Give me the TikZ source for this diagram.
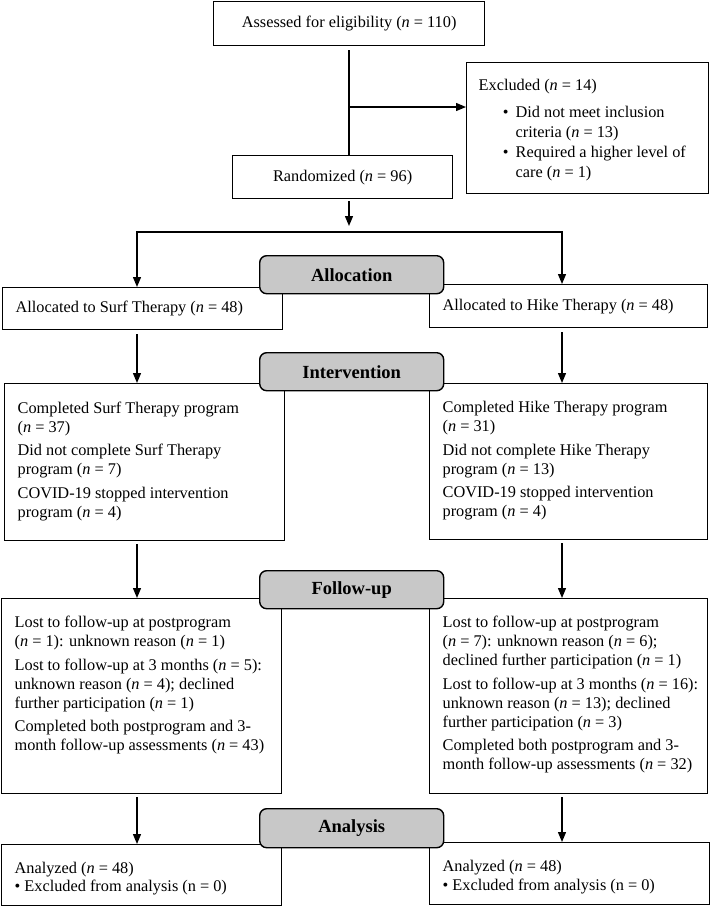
\documentclass[tikz,border=0pt]{standalone}
\usepackage{fontspec}
\setmainfont{Liberation Serif}
\usetikzlibrary{arrows.meta}
\definecolor{hdrgray}{RGB}{200,200,200}
\newcommand{\consortbox}[4]{\parbox[c][#2][#3]{#1}{\raggedright\leftskip=13pt\relax\parskip=4.5pt\relax #4\par}}
\begin{document}
\begin{tikzpicture}[x=1pt,y=-1pt,
  font=\fontsize{16.3}{19}\selectfont,
  >={Triangle[length=10pt,width=8pt]},
  box/.style={draw, line width=1.3pt, inner sep=0pt, anchor=north west},
  cbox/.style={draw, line width=1.3pt, anchor=north west, align=center, inner sep=0pt},
  hdr/.style={draw, line width=1.4pt, fill=hdrgray, rounded corners=7pt, minimum width=184pt,
    minimum height=38pt, anchor=north west, inner sep=0pt, font=\fontsize{18.5}{20}\selectfont\bfseries},
  ln/.style={line width=1.3pt},
  arr/.style={line width=1.3pt, ->}]

\useasboundingbox (0,0) rectangle (710,906);

% boxes
\node[cbox, minimum width=271pt, minimum height=44pt] (assess) at (213,1) {Assessed for eligibility (\textit{n} = 110)};

\node[box] (excl) at (466,62) {\parbox[c][131pt][t]{242pt}{\raggedright\fontsize{16.3}{20}\selectfont\leftskip=12pt\relax
  \vspace*{17pt}Excluded (\textit{n} = 14)\par\vspace{7pt}\leftskip=49pt\relax
  \leavevmode\llap{\textbullet\hspace{7pt}}Did not meet inclusion\\criteria (\textit{n} = 13)\par
  \leavevmode\llap{\textbullet\hspace{7pt}}Required a higher level of\\care (\textit{n} = 1)\par}};

\node[cbox, minimum width=220pt, minimum height=43pt] (rand) at (232,155) {Randomized (\textit{n} = 96)};

\node[box] (allocL) at (2,287) {\consortbox{280pt}{42pt}{c}{Allocated to Surf Therapy (\textit{n} = 48)}};
\node[box] (allocR) at (429,284) {\consortbox{278pt}{43pt}{c}{Allocated to Hike Therapy (\textit{n} = 48)}};

\node[box] (intL) at (4,383) {\consortbox{280pt}{157pt}{t}{\vspace*{13.5pt}%
  Completed Surf Therapy program\\(\textit{n} = 37)\par
  Did not complete Surf Therapy\\program (\textit{n} = 7)\par
  COVID-19 stopped intervention\\program (\textit{n} = 4)}};
\node[box] (intR) at (429,383) {\consortbox{278pt}{156pt}{t}{\vspace*{13.5pt}%
  Completed Hike Therapy program\\(\textit{n} = 31)\par
  Did not complete Hike Therapy\\program (\textit{n} = 13)\par
  COVID-19 stopped intervention\\program (\textit{n} = 4)}};

\node[box] (folL) at (1,598) {\consortbox{280pt}{195pt}{t}{\vspace*{13pt}%
  Lost to follow-up at postprogram\\(\textit{n} = 1): unknown reason (\textit{n} = 1)\par
  Lost to follow-up at 3 months (\textit{n} = 5):\\unknown reason (\textit{n} = 4); declined\\further participation (\textit{n} = 1)\par
  Completed both postprogram and 3-\\month follow-up assessments (\textit{n} = 43)}};
\node[box] (folR) at (429,598) {\consortbox{278pt}{195pt}{t}{\vspace*{13pt}%
  Lost to follow-up at postprogram\\(\textit{n} = 7): unknown reason (\textit{n} = 6);\\declined further participation (\textit{n} = 1)\par
  Lost to follow-up at 3 months (\textit{n} = 16):\\unknown reason (\textit{n} = 13); declined\\further participation (\textit{n} = 3)\par
  Completed both postprogram and 3-\\month follow-up assessments (\textit{n} = 32)}};

\node[box] (anaL) at (1,844) {\consortbox{280pt}{61pt}{c}{\fontsize{16.3}{18.5}\selectfont\vspace*{2pt}%
  Analyzed (\textit{n} = 48)\\\textbullet{} Excluded from analysis (n = 0)}};
\node[box] (anaR) at (429,842) {\consortbox{280pt}{62pt}{c}{\fontsize{16.3}{18.5}\selectfont\vspace*{2pt}%
  Analyzed (\textit{n} = 48)\\\textbullet{} Excluded from analysis (n = 0)}};

% stage headers
\node[hdr] (h1) at (259,255) {Allocation};
\node[hdr] (h2) at (259,352) {Intervention};
\node[hdr] (h3) at (259,570) {Follow-up};
\node[hdr, minimum height=39pt] (h4) at (259,808) {Analysis};

% connectors
\coordinate (j) at (349,107);
\coordinate (split) at (349,232);
\coordinate (sl) at (137,232);
\coordinate (sr) at (562,232);

\draw[ln, shorten <=4pt] (j |- assess.south) -- (j |- rand.north);
\draw[arr] (j) -- (j -| excl.west);
\draw[arr, shorten <=2pt, shorten >=6pt] (j |- rand.south) -- (split);
\draw[ln, <->] (sl |- allocL.north) -- (sl) -- (sr) -- (sr |- allocR.north);

\draw[arr, shorten <=4pt] (sl |- allocL.south) -- (sl |- intL.north);
\draw[arr, shorten <=4pt] (sr |- allocR.south) -- (sr |- intR.north);
\draw[arr, shorten <=3pt] (sl |- intL.south) -- (sl |- folL.north);
\draw[arr, shorten <=3pt] (sr |- intR.south) -- (sr |- folR.north);
\draw[arr, shorten <=3pt] (sl |- folL.south) -- (sl |- anaL.north);
\draw[arr, shorten <=3pt] (sr |- folR.south) -- (sr |- anaR.north);
\end{tikzpicture}
\end{document}
